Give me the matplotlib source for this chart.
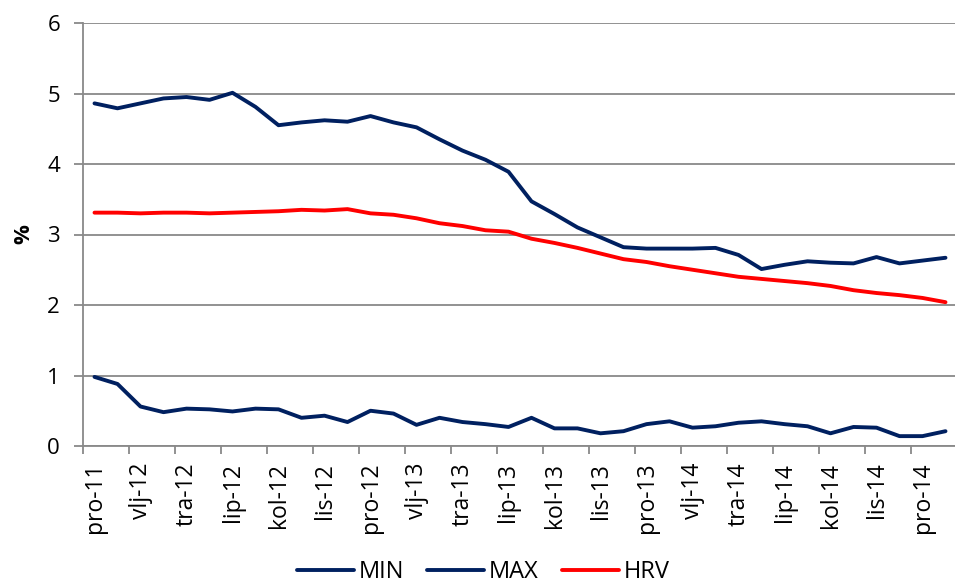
import matplotlib
matplotlib.use('Agg')
from matplotlib import pyplot as plt

plt.rcParams['font.family'] = ['Open Sans', 'DejaVu Sans']

# monthly categories, Dec 2011 - Jan 2015
month_names = ['sij', 'vlj', 'ožu', 'tra', 'svi', 'lip', 'srp', 'kol', 'ruj', 'lis', 'stu', 'pro']
months = ['pro-11']
for yr in ['12', '13', '14']:
    for m in month_names:
        months.append(m + '-' + yr)
months.append('sij-15')

min_vals = [0.98, 0.88, 0.56, 0.48, 0.53, 0.52, 0.49, 0.53, 0.52, 0.40,
            0.43, 0.34, 0.50, 0.46, 0.30, 0.40, 0.34, 0.31, 0.27, 0.40,
            0.25, 0.25, 0.18, 0.21, 0.31, 0.35, 0.26, 0.28, 0.33, 0.35,
            0.31, 0.28, 0.18, 0.27, 0.26, 0.14, 0.14, 0.21]
max_vals = [4.86, 4.79, 4.86, 4.93, 4.95, 4.91, 5.01, 4.81, 4.55, 4.59,
            4.62, 4.60, 4.68, 4.59, 4.52, 4.35, 4.19, 4.06, 3.89, 3.47,
            3.29, 3.10, 2.96, 2.82, 2.80, 2.80, 2.80, 2.81, 2.71, 2.51,
            2.57, 2.62, 2.60, 2.59, 2.68, 2.59, 2.63, 2.67]
hrv_vals = [3.31, 3.31, 3.30, 3.31, 3.31, 3.30, 3.31, 3.32, 3.33, 3.35,
            3.34, 3.36, 3.30, 3.28, 3.23, 3.16, 3.12, 3.06, 3.04, 2.94,
            2.88, 2.81, 2.73, 2.65, 2.61, 2.55, 2.50, 2.45, 2.40, 2.37,
            2.34, 2.31, 2.27, 2.21, 2.17, 2.14, 2.10, 2.04]

navy = '#002060'
red = '#ff0000'
grey = '#898989'

fig = plt.figure(figsize=(9.55, 5.87), dpi=100)
ax = fig.add_axes([83 / 955, 1 - 446 / 587, 874 / 955, 423 / 587])

x = list(range(len(months)))
ax.plot(x, min_vals, color=navy, lw=2.8, label='MIN', solid_capstyle='round')
ax.plot(x, max_vals, color=navy, lw=2.8, label='MAX', solid_capstyle='round')
ax.plot(x, hrv_vals, color=red, lw=2.8, label='HRV', solid_capstyle='round')

ax.set_xlim(-0.5, len(months) - 0.5)
ax.set_ylim(0, 6)
ax.set_yticks(range(7))
ax.grid(axis='y', color=grey, lw=1.3)
ax.set_axisbelow(True)

# tick marks on category boundaries, labels on every other month
ax.set_xticks([i - 0.5 for i in range(0, len(months), 2)])
ax.set_xticklabels([])
ax.set_xticks(x[::2], minor=True)
ax.set_xticklabels(months[::2], minor=True, rotation=90, fontsize=16.5)
ax.tick_params(axis='x', which='major', length=6, width=1.3, color=grey, direction='out')
ax.tick_params(axis='x', which='minor', length=0, pad=12)
ax.tick_params(axis='y', length=6.5, width=1.3, color=grey, pad=10, labelsize=16)

for s in ['top', 'right']:
    ax.spines[s].set_visible(False)
for s in ['left', 'bottom']:
    ax.spines[s].set_color(grey)
    ax.spines[s].set_linewidth(1.3)

ax.set_ylabel('%', fontsize=16, fontweight='bold', labelpad=9)

fig.legend(loc='center', bbox_to_anchor=(0.506, 1 - 572 / 587), ncol=3, frameon=False,
           fontsize=17, handlelength=2.4, handletextpad=0.2, columnspacing=1.0,
           borderpad=0.1)

plt.savefig('out.png', dpi=100)
